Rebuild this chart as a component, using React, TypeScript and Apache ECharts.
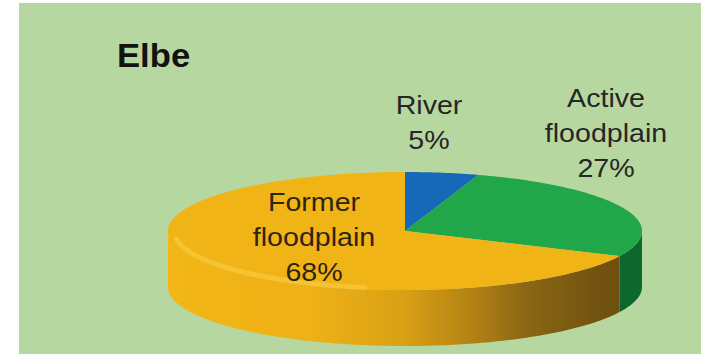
import React, { useEffect, useRef } from "react";
import * as echarts from "echarts";

// ---- data ----
const categories: string[] = ["River", "Active\nfloodplain", "Former\nfloodplain"];
const shares: number[] = [5, 27, 68];
const title = "Elbe";

// ---- styling / layout (not data) ----
const topColors = ["#1768b6", "#22a64a", "#f1b416"];
const sideColors: any[] = [
  "#0d4f8c",
  "#0e682e",
  {
    type: "linear", x: 168, y: 0, x2: 642, y2: 0, global: true,
    colorStops: [
      { offset: 0, color: "#f2b617" },
      { offset: 0.3, color: "#eeb116" },
      { offset: 0.5, color: "#d9a014" },
      { offset: 0.65, color: "#b08014" },
      { offset: 0.75, color: "#8c6813" },
      { offset: 0.9, color: "#735310" },
      { offset: 1, color: "#6c4c0f" },
    ],
  },
];
const labelColors = ["#262626", "#262626", "#2e2510"];
const labelPos = [
  [429, 122],
  [606, 133],
  [314, 237],
];
const CX = 405, CY = 231, RX = 237, RY = 59, DEPTH = 56;

function pt(deg: number, dy: number, k = 1): number[] {
  const r = (deg * Math.PI) / 180;
  return [CX + RX * k * Math.sin(r), CY - RY * k * Math.cos(r) + dy];
}
function arc(a: number, b: number, dy: number, k = 1): number[][] {
  const pts: number[][] = [];
  const n = Math.max(2, Math.ceil(Math.abs(b - a)));
  for (let i = 0; i <= n; i++) pts.push(pt(a + ((b - a) * i) / n, dy, k));
  return pts;
}

export default function App() {
  const ref = useRef<HTMLDivElement>(null);
  useEffect(() => {
    document.body.style.margin = "0";
    const chart = echarts.init(ref.current!, null, { renderer: "svg" });
    const total = shares.reduce((s, v) => s + v, 0);
    const starts: number[] = [];
    let acc = 0;
    shares.forEach((v) => {
      starts.push((acc / total) * 360);
      acc += v;
    });

    chart.setOption({
      animation: false,
      backgroundColor: "#ffffff",
      graphic: [
        {
          type: "rect", z: -10,
          shape: { x: 19, y: 3, width: 690, height: 360 },
          style: { fill: "#b7d7a0" },
        },
        {
          type: "text", x: 117, y: 55, scaleX: 1.05,
          style: {
            text: title, fontFamily: "Liberation Sans, Arial, sans-serif",
            fontSize: 33, fontWeight: "bold", fill: "#121212",
            align: "left", verticalAlign: "middle",
          },
        },
      ],
      series: [
        {
          type: "custom",
          coordinateSystem: "none",
          data: shares.map((v, i) => ({ value: [v, i], name: categories[i] })),
          renderItem: (params: any, api: any) => {
            const i = params.dataIndex;
            const v = api.value(0);
            const a = starts[i];
            const b = a + (v / total) * 360;
            const children: any[] = [];
            const fa = Math.max(a, 90), fb = Math.min(b, 270);
            if (fa < fb) {
              const pts = arc(fa, fb, 0).concat(arc(fb, fa, DEPTH));
              children.push({
                type: "polygon", z2: 1,
                shape: { points: pts },
                style: { fill: sideColors[i], stroke: "none" },
              });
            }
            const topPts = [[CX, CY]].concat(arc(a, b, 0));
            children.push({
              type: "polygon", z2: 5,
              shape: { points: topPts },
              style: { fill: topColors[i], stroke: "none" },
            });
            if (i === 2) {
              children.push({
                type: "polyline", z2: 6,
                shape: { points: arc(Math.max(a, 190), 262, 0, 0.975) },
                style: { stroke: "rgba(255,212,80,0.45)", lineWidth: 5, fill: "none", lineCap: "round" },
              });
            }
            const pct = Math.round((v / total) * 100) + "%";
            children.push({
              type: "text", z2: 10,
              x: labelPos[i][0], y: labelPos[i][1], scaleX: 1.1,
              style: {
                text: categories[i] + "\n" + pct,
                fontFamily: "Liberation Sans, Arial, sans-serif",
                fontSize: 26, lineHeight: 35,
                fill: labelColors[i], align: "center", verticalAlign: "middle",
              },
            });
            return { type: "group", children };
          },
        },
      ],
    });
    return () => chart.dispose();
  }, []);
  return <div ref={ref} style={{ width: 701, height: 354 }} />;
}
